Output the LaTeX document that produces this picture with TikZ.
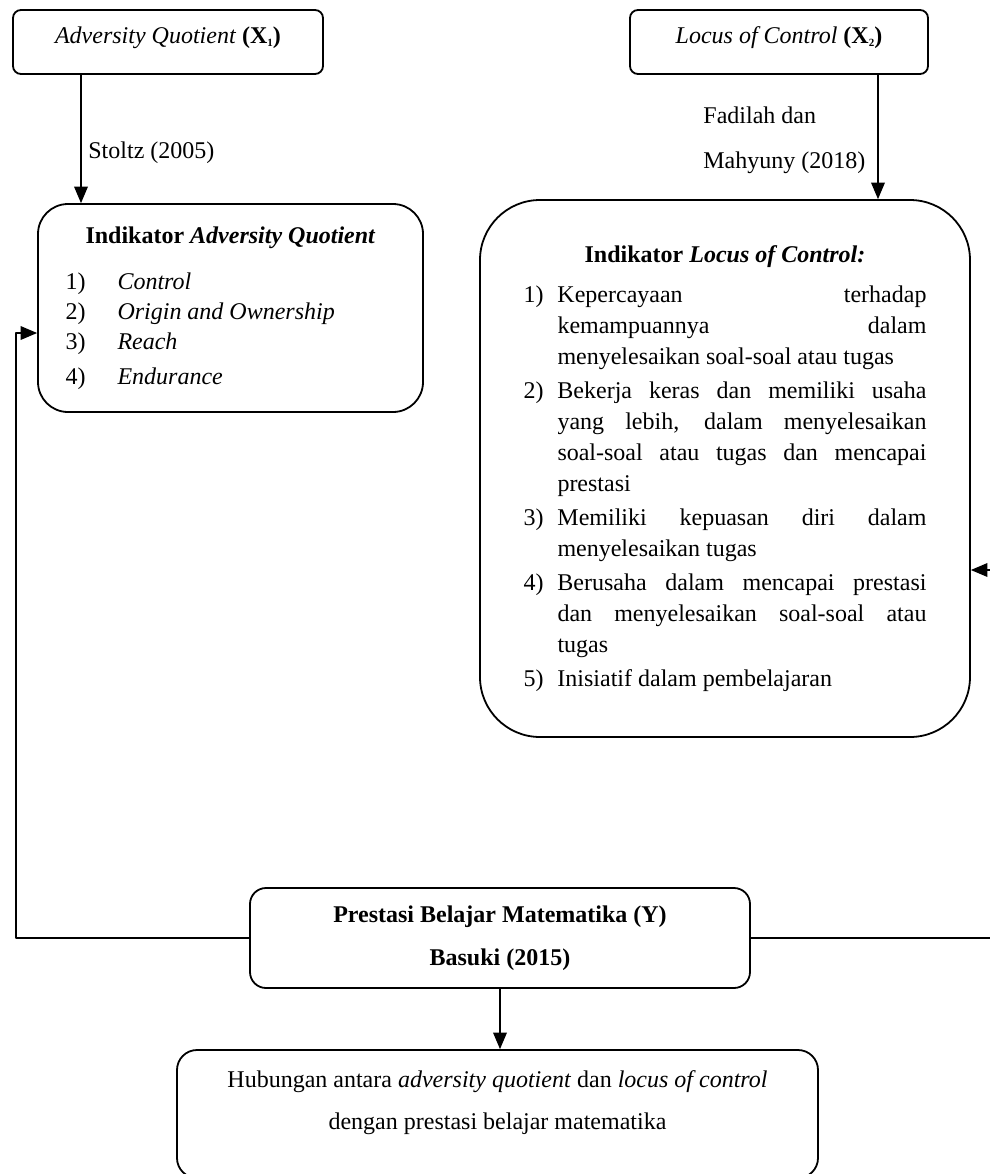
\documentclass[tikz,border=0pt]{standalone}
\usepackage{amsmath}
\usepackage{fontspec}
\setmainfont{Liberation Serif}
\usepackage{pgf,tikz}
\usetikzlibrary{arrows}

\newcommand{\numitem}[3]{\par\hangindent=#1\hangafter=1\noindent\makebox[#1][l]{#2}#3}
\newcommand{\tinysub}[1]{\raisebox{-1.5pt}{\fontsize{5.5pt}{6pt}\selectfont #1}}

\begin{document}
\begin{tikzpicture}[line cap=round,line join=round,>=triangle 45,x=0.5pt,y=-0.5pt,
  font=\fontsize{12pt}{14.5pt}\selectfont,
  varbox/.style={draw,line width=0.9pt,rounded corners=4pt,minimum width=#1,minimum height=32pt,inner sep=0pt,text depth=6.5pt},
  indbox/.style={draw,line width=0.9pt,inner sep=0pt},
  lbl/.style={inner sep=0pt},
  conn/.style={line width=0.9pt}]
%\clip(0,0) rectangle (990,1174);
\useasboundingbox (0,0) rectangle (990,1174);
\node [varbox=155pt] (aqvar) at (168,42) {\textit{Adversity Quotient} \textbf{(X\tinysub{1})}};
\node [varbox=149pt] (locvar) at (779,42) {\textit{Locus of Control} \textbf{(X\tinysub{2})}};
\node [indbox,rounded corners=15pt,minimum width=192.5pt,minimum height=104pt] (aqind) at (230.5,308) {\parbox{165pt}{\baselineskip=15pt
{\centering\textbf{Indikator \textit{Adversity Quotient}}\par}\vspace{8pt}
\numitem{26pt}{1)}{\textit{Control}}
\numitem{26pt}{2)}{\textit{Origin and Ownership}}
\numitem{26pt}{3)}{\textit{Reach}}\par\vspace{2.5pt}
\numitem{26pt}{4)}{\textit{Endurance}}}};
\node [indbox,rounded corners=30pt,minimum width=245pt,minimum height=268.5pt] (locind) at (725,468.5) {\parbox{201.5pt}{\baselineskip=15.5pt\parskip=1.5pt\tolerance=10000\hbadness=10000\hyphenpenalty=10000
{\centering\textbf{Indikator \textit{Locus of Control:}}\par}\vspace{3pt}
\numitem{17pt}{1)}{Kepercayaan terhadap\linebreak kemampuannya dalam\linebreak menyelesaikan soal-soal atau tugas}
\numitem{17pt}{2)}{Bekerja keras dan memiliki usaha\linebreak yang lebih, dalam menyelesaikan\linebreak soal-soal atau tugas dan mencapai\linebreak prestasi}
\numitem{17pt}{3)}{Memiliki kepuasan diri dalam\linebreak menyelesaikan tugas}
\numitem{17pt}{4)}{Berusaha dalam mencapai prestasi\linebreak dan menyelesaikan soal-soal atau\linebreak tugas}
\numitem{17pt}{5)}{Inisiatif dalam pembelajaran}}};
\node [indbox,rounded corners=8pt,minimum width=250pt,minimum height=50pt,align=center,font=\fontsize{12pt}{21.5pt}\selectfont\bfseries] (prestasi) at (500,938) {Prestasi Belajar Matematika (Y)\\Basuki (2015)};
\node [indbox,rounded corners=10pt,minimum width=320.5pt,minimum height=64pt] (hubungan) at (497.5,1114) {\parbox[c][64pt][t]{310pt}{\centering\baselineskip=21pt\vspace*{10.5pt}Hubungan antara \textit{adversity quotient} dan \textit{locus of control}\\dengan prestasi belajar matematika}};
\node [lbl,anchor=west] (stoltz) at (88,153) {Stoltz (2005)};
\node [lbl,anchor=west,align=left,font=\fontsize{12pt}{22.5pt}\selectfont] (fadilah) at (703,140) {Fadilah dan\\Mahyuny (2018)};
\coordinate (lcorner) at (16,333);
\coordinate (rcorner) at (994,570);
\draw [conn,->] ([xshift=-43.5pt]aqvar.south) -- ([xshift=-43.5pt]aqvar.south |- aqind.north);
\draw [conn,->] ([xshift=49.5pt]locvar.south) -- ([xshift=49.5pt]locvar.south |- locind.north);
\draw [conn,->] (prestasi.west) -| (lcorner) -- (lcorner -| aqind.west);
\draw [conn,->] (prestasi.east) -| (rcorner) -- (rcorner -| locind.east);
\draw [conn,->] (prestasi.south) -- (prestasi.south |- hubungan.north);
\end{tikzpicture}
\end{document}
